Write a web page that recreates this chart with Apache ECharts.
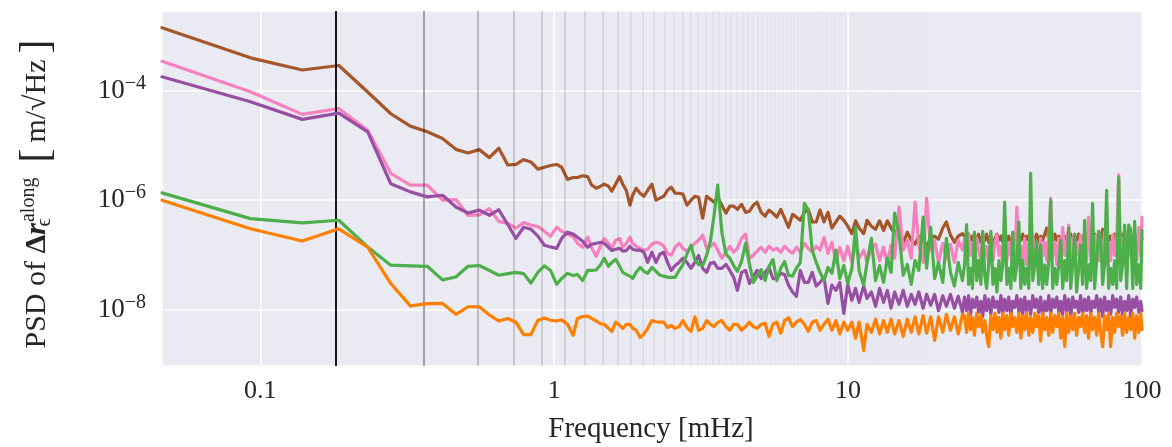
<!DOCTYPE html>
<html><head><meta charset="utf-8">
<script src="https://cdn.jsdelivr.net/npm/echarts@6/dist/echarts.min.js"></script>
<style>html,body{margin:0;padding:0;background:#fff}#c{width:1172px;height:447px}</style>
</head><body><div id="c"></div>
<script>
// Frequency grid [mHz]
const freqMHz = [
 0.0463,0.0926,0.139,0.185,0.232,0.278,0.324,0.370,0.417,0.463,
 0.509,0.556,0.602,0.648,0.695,0.741,0.787,0.833,0.880,0.926,
 0.972,1.02,1.06,1.11,1.16,1.20,1.25,1.30,1.34,1.39,
 1.44,1.48,1.53,1.57,1.62,1.67,1.71,1.76,1.81,1.85,
 1.90,1.96,2.02,2.08,2.15,2.22,2.29,2.36,2.43,2.50,
 2.58,2.66,2.74,2.83,2.92,3.01,3.10,3.20,3.30,3.40,
 3.50,3.60,3.72,3.84,3.96,4.08,4.20,4.34,4.48,4.62,
 4.76,4.90,5.06,5.22,5.38,5.55,5.72,5.90,6.08,6.27,
 6.47,6.67,6.88,7.10,7.32,7.55,7.79,8.03,8.28,8.54,
 8.81,9.09,9.37,9.67,9.97,10.3,10.6,10.9,11.3,11.6,
 12.0,12.4,12.8,13.2,13.6,14.0,14.4,14.9,15.4,15.9,
 16.4,16.9,17.4,18.0,18.5,19.1,19.7,20.3,21.0,21.6,
 22.3,23.0,23.7,24.5,
 24.9,25.3,25.7,26.1,26.5,26.9,27.4,27.8,28.3,28.7,
 29.2,29.6,30.1,30.6,31.1,31.6,32.1,32.6,33.1,33.6,
 34.1,34.7,35.2,35.8,36.3,36.9,37.5,38.1,38.7,39.3,
 39.9,40.5,41.2,41.8,42.5,43.2,43.8,44.5,45.2,45.9,
 46.7,47.4,48.2,48.9,49.7,50.5,51.3,52.1,52.9,53.7,
 54.6,55.4,56.3,57.2,58.1,59.0,59.9,60.9,61.8,62.8,
 63.8,64.8,65.8,66.9,67.9,69.0,70.1,71.2,72.3,73.5,
 74.6,75.8,77.0,78.2,79.5,80.7,82.0,83.3,84.6,85.9,
 87.3,88.7,90.1,91.5,93.0,94.4,95.9,97.5,99.0,100
];

// PSD values [m/sqrt(Hz)]
const psdBrown = [
 1.42e-3,4.0e-4,2.4e-4,2.9e-4,9.5e-5,3.8e-5,2.26e-5,1.78e-5,1.34e-5,8.5e-6,
 7.3e-6,8.4e-6,6.0e-6,8.9e-6,4.4e-6,4.5e-6,5.5e-6,5.0e-6,3.7e-6,4.0e-6,
 4.3e-6,4.5e-6,4.0e-6,2.4e-6,2.6e-6,2.6e-6,2.8e-6,2.7e-6,1.9e-6,1.66e-6,
 1.8e-6,1.97e-6,1.8e-6,1.46e-6,2.0e-6,2.7e-6,1.97e-6,1.5e-6,8.1e-7,1.23e-6,
 1.66e-6,1.34e-6,1.18e-6,1.52e-6,1.96e-6,1.0e-6,1.09e-6,1.18e-6,1.52e-6,1.73e-6,
 1.34e-6,1.34e-6,1.29e-6,8.1e-7,1.0e-6,1.18e-6,1.13e-6,4.7e-7,1.18e-6,1.04e-6,
 9.2e-7,1.13e-6,8.1e-7,5.8e-7,7.8e-7,7.8e-7,6.8e-7,8.4e-7,6.0e-7,6.3e-7,
 8.1e-7,9.2e-7,6.0e-7,5.1e-7,6.6e-7,5.8e-7,4.9e-7,6.8e-7,4.7e-7,3.2e-7,
 5.5e-7,4.9e-7,4.3e-7,6.0e-7,6.8e-7,4.0e-7,4.0e-7,6.6e-7,4.0e-7,6.0e-7,
 3.1e-7,4.0e-7,5.1e-7,4.3e-7,3.35e-7,2.45e-7,4.2e-7,3.1e-7,2.45e-7,4.3e-7,
 3.35e-7,2.95e-7,4.2e-7,2.8e-7,4.2e-7,3.1e-7,2.45e-7,3.2e-7,1.63e-7,2.6e-7,
 1.85e-7,1.57e-7,2.2e-7,1.85e-7,1.44e-7,2.0e-7,2.2e-7,1.93e-7,3.1e-7,4.0e-7,
 2.3e-7,1.7e-7,2.2e-7,2.45e-7,
 2.2e-7,1.7e-7,2.4e-7,1.85e-7,2.2e-7,1.7e-7,2.0e-7,2.4e-7,1.7e-7,2.2e-7,
 1.85e-7,2.4e-7,1.7e-7,2.2e-7,1.5e-7,2.0e-7,2.4e-7,1.85e-7,2.2e-7,1.7e-7,
 2.4e-7,1.85e-7,2.2e-7,1.7e-7,2.0e-7,2.4e-7,1.7e-7,2.2e-7,1.85e-7,2.4e-7,
 1.7e-7,2.2e-7,1.85e-7,2.4e-7,1.7e-7,2.0e-7,2.4e-7,1.7e-7,2.2e-7,1.85e-7,
 2.4e-7,3.1e-7,1.85e-7,2.2e-7,1.7e-7,2.4e-7,1.85e-7,2.2e-7,1.7e-7,2.4e-7,
 1.85e-7,2.2e-7,1.7e-7,2.4e-7,1.5e-7,2.2e-7,1.85e-7,2.4e-7,1.7e-7,2.2e-7,
 1.85e-7,2.4e-7,1.7e-7,2.2e-7,1.85e-7,2.4e-7,1.7e-7,2.2e-7,1.85e-7,2.95e-7,
 2.0e-7,2.4e-7,1.7e-7,2.2e-7,1.85e-7,2.4e-7,1.7e-7,2.2e-7,1.85e-7,2.4e-7,
 1.7e-7,2.2e-7,1.85e-7,2.4e-7,1.7e-7,2.2e-7,1.85e-7,2.4e-7,1.7e-7,2.0e-7
];
const psdPink = [
 3.45e-4,9.6e-5,3.7e-5,4.75e-5,1.9e-5,3.1e-6,1.88e-6,1.88e-6,1.0e-6,1.03e-6,
 5.3e-7,5.4e-7,7.0e-7,4.1e-7,3.75e-7,3.1e-7,3.9e-7,3.5e-7,3.3e-7,2.7e-7,
 2.2e-7,3.2e-7,2.7e-7,2.4e-7,2.15e-7,1.63e-7,1.38e-7,2.1e-7,1.37e-7,9.4e-8,
 1.5e-7,2.0e-7,1.63e-7,1.33e-7,1.85e-7,2.0e-7,1.38e-7,1.63e-7,2.1e-7,1.63e-7,
 1.44e-7,1.32e-7,1.22e-7,1.27e-7,1.57e-7,1.7e-7,1.63e-7,1.44e-7,1.07e-7,9.9e-8,
 1.38e-7,1.63e-7,1.32e-7,1.17e-7,1.38e-7,1.63e-7,1.85e-7,2.3e-7,1.32e-7,1.44e-7,
 1.63e-7,1.22e-7,8.7e-8,1.12e-7,1.44e-7,1.12e-7,1.32e-7,2.0e-7,2.4e-7,8.7e-8,
 9.8e-8,1.17e-7,1.38e-7,1.12e-7,1.44e-7,1.22e-7,1.32e-7,1.12e-7,1.44e-7,1.22e-7,
 1.07e-7,1.38e-7,1.12e-7,1.63e-7,1.32e-7,1.12e-7,1.44e-7,1.22e-7,2.1e-7,1.07e-7,
 1.7e-7,7.3e-8,1.38e-7,7.9e-8,1.44e-7,7.3e-8,1.57e-7,8.7e-8,1.22e-7,7.3e-8,
 1.32e-7,1.57e-7,7.9e-8,1.38e-7,7.3e-8,1.5e-7,8.7e-8,7.5e-7,1.22e-7,1.85e-7,
 8.7e-8,9.2e-7,1.5e-7,7.3e-8,1.09e-6,1.22e-7,1.85e-7,7.3e-8,1.63e-7,8.7e-8,
 1.57e-7,7.3e-8,1.85e-7,1.22e-7,
 2.0e-7,7.9e-8,2.3e-7,9.8e-8,1.7e-7,6.6e-8,2.0e-7,1.22e-7,7.9e-8,2.3e-7,
 9.8e-8,1.44e-7,6.6e-8,2.0e-7,7.9e-8,1.7e-7,2.3e-7,9.8e-8,1.44e-7,6.6e-8,
 2.0e-7,7.9e-8,1.7e-7,9.8e-8,2.3e-7,6.6e-8,7.5e-7,9.8e-8,1.44e-7,7.9e-8,
 2.0e-7,6.6e-8,1.7e-7,9.8e-8,2.3e-7,7.9e-8,1.44e-7,6.6e-8,2.0e-7,9.8e-8,
 1.7e-7,7.9e-8,2.3e-7,1.09e-6,9.8e-8,1.7e-7,6.6e-8,2.0e-7,7.9e-8,3.2e-7,
 9.8e-8,1.44e-7,3.5e-7,6.6e-8,2.0e-7,7.9e-8,1.7e-7,9.8e-8,2.3e-7,6.6e-8,
 2.0e-7,7.9e-8,4.9e-7,9.8e-8,1.7e-7,6.6e-8,2.3e-7,7.9e-8,1.44e-7,9.8e-8,
 2.6e-7,6.6e-8,1.7e-7,7.9e-8,2.3e-7,9.8e-8,1.44e-7,2.9e-6,6.6e-8,2.0e-7,
 7.9e-8,2.6e-7,9.8e-8,1.7e-7,6.6e-8,2.3e-7,7.9e-8,3.2e-7,9.8e-8,4.9e-7
];
const psdPurple = [
 1.8e-4,6.3e-5,3.0e-5,3.9e-5,1.78e-5,2.0e-6,1.42e-6,1.15e-6,1.23e-6,7.5e-7,
 5.85e-7,6.6e-7,5.3e-7,6.7e-7,3.6e-7,2.0e-7,3.2e-7,2.95e-7,2.2e-7,1.5e-7,
 1.4e-7,1.32e-7,2.0e-7,2.6e-7,2.4e-7,2.1e-7,1.78e-7,1.38e-7,1.57e-7,1.63e-7,
 1.7e-7,1.63e-7,1.38e-7,1.2e-7,1.27e-7,1.32e-7,1.17e-7,1.2e-7,1.44e-7,1.27e-7,
 1.22e-7,1.22e-7,1.12e-7,7.3e-8,1.12e-7,7.3e-8,1.03e-7,1.12e-7,7.3e-8,5.2e-8,
 6.4e-8,7.3e-8,8.7e-8,7.3e-8,5.7e-8,7.3e-8,9.8e-8,5.7e-8,4.8e-8,7.0e-8,
 7.3e-8,5.7e-8,5.7e-8,6.7e-8,5.2e-8,3.9e-8,2.25e-8,4.8e-8,5.2e-8,3.0e-8,
 4.1e-8,5.2e-8,3.7e-8,4.8e-8,5.9e-8,3.7e-8,3.7e-8,4.6e-8,4.4e-8,2.8e-8,
 2.1e-8,1.75e-8,5.2e-8,3.15e-8,3.15e-8,4.8e-8,2.7e-8,3.15e-8,3.9e-8,1.3e-8,
 2.8e-8,2.25e-8,3.15e-8,8.5e-9,2.9e-8,1.48e-8,2.45e-8,1.36e-8,2.7e-8,1.6e-8,
 2.1e-8,1.15e-8,2.45e-8,1.36e-8,2.25e-8,1.06e-8,2.1e-8,1.25e-8,2.25e-8,1.15e-8,
 1.9e-8,1.25e-8,2.1e-8,1.06e-8,1.9e-8,1.2e-8,1.9e-8,9.6e-9,1.8e-8,1.15e-8,
 1.9e-8,1.06e-8,1.75e-8,8.9e-9,
 1.7e-8,9.6e-9,1.8e-8,8.2e-9,1.55e-8,1.1e-8,1.7e-8,8.9e-9,1.42e-8,7.5e-9,
 1.8e-8,9.6e-9,1.55e-8,8.2e-9,1.7e-8,1.1e-8,1.42e-8,8.9e-9,1.8e-8,8.2e-9,
 1.55e-8,9.6e-9,1.7e-8,7.5e-9,1.42e-8,1.1e-8,1.8e-8,8.9e-9,1.55e-8,8.2e-9,
 1.7e-8,9.6e-9,1.42e-8,8.2e-9,1.8e-8,1.1e-8,1.55e-8,8.9e-9,1.7e-8,7.5e-9,
 1.42e-8,9.6e-9,1.8e-8,8.2e-9,1.55e-8,1.1e-8,1.7e-8,8.9e-9,1.42e-8,8.2e-9,
 1.8e-8,9.6e-9,1.55e-8,7.5e-9,1.7e-8,1.1e-8,1.42e-8,8.9e-9,1.8e-8,8.2e-9,
 1.55e-8,9.6e-9,1.7e-8,8.2e-9,1.42e-8,1.1e-8,1.8e-8,8.9e-9,1.55e-8,7.5e-9,
 1.7e-8,9.6e-9,1.42e-8,8.2e-9,1.8e-8,1.1e-8,1.55e-8,8.9e-9,1.7e-8,8.2e-9,
 1.42e-8,9.6e-9,1.8e-8,7.5e-9,1.55e-8,1.1e-8,1.7e-8,8.9e-9,1.42e-8,9.6e-9
];
const psdGreen = [
 1.36e-6,4.6e-7,3.85e-7,4.3e-7,1.4e-7,6.5e-8,6.3e-8,6.2e-8,3.5e-8,3.95e-8,
 6.2e-8,6.4e-8,5.2e-8,4.25e-8,4.55e-8,4.8e-8,4.55e-8,3.06e-8,4.8e-8,6.3e-8,
 5.2e-8,2.9e-8,3.7e-8,4.6e-8,4.2e-8,4.4e-8,3.4e-8,5.2e-8,5.2e-8,5.3e-8,
 6.7e-8,8.7e-8,6.2e-8,7.3e-8,8.3e-8,6.2e-8,4.8e-8,4.4e-8,4.1e-8,3.7e-8,
 4.8e-8,5.9e-8,5.0e-8,4.6e-8,5.9e-8,5.0e-8,4.25e-8,4.1e-8,3.9e-8,3.9e-8,
 3.9e-8,5.2e-8,6.6e-8,1.03e-7,1.5e-7,8.2e-8,6.7e-8,6.4e-8,9.8e-8,1.78e-7,
 5.3e-7,1.88e-6,2.6e-7,1.03e-7,8.7e-8,6.4e-8,5.0e-8,7.6e-8,1.63e-7,6.7e-8,
 3.15e-8,4.1e-8,5.4e-8,3.4e-8,6.2e-8,8.2e-8,3.4e-8,5.7e-8,7.6e-8,4.25e-8,
 4.1e-8,5.7e-8,7.3e-8,8.8e-7,6.6e-7,1.22e-7,7.3e-8,4.8e-8,3.4e-8,5.9e-8,
 4.6e-8,1.22e-7,3.7e-8,6.4e-8,3.0e-8,5.7e-8,3.2e-7,5.2e-8,2.8e-8,7.3e-8,
 2.0e-7,3.4e-8,6.4e-8,3.15e-8,8.7e-8,4.8e-8,5.8e-7,2.5e-7,4.25e-8,6.7e-8,
 2.9e-8,7.9e-8,5.2e-8,4.9e-7,5.7e-8,3.2e-7,3.7e-8,7.3e-8,3.15e-8,2.0e-7,
 4.8e-8,2.7e-8,7.3e-8,3.4e-8,
 6.6e-8,3.6e-7,2.9e-8,5.7e-8,2.45e-8,2.6e-7,3.4e-8,7.9e-8,2.9e-8,2.7e-7,
 4.1e-8,2.45e-8,6.6e-8,2.7e-7,2.9e-8,5.7e-8,2.1e-8,7.9e-8,3.4e-8,6.6e-8,
 9.2e-7,2.9e-8,5.7e-8,2.45e-8,2.6e-7,3.4e-8,6.6e-8,4.0e-7,2.45e-8,7.9e-8,
 2.9e-8,5.7e-8,2.45e-8,3.1e-6,3.4e-8,6.6e-8,1.85e-7,2.9e-8,1.5e-7,2.45e-8,
 6.6e-8,2.9e-8,7.9e-8,1.0e-6,2.45e-8,5.7e-8,2.9e-8,6.6e-8,1.85e-7,2.45e-8,
 7.9e-8,3.4e-8,3.1e-7,2.45e-8,6.6e-8,2.4e-7,2.1e-8,5.7e-8,1.5e-7,2.9e-8,
 4.3e-7,2.45e-8,6.6e-8,3.4e-8,8.8e-7,2.45e-8,7.9e-8,2.7e-7,2.2e-7,2.9e-8,
 6.6e-8,1.52e-6,2.45e-8,5.7e-8,2.9e-8,7.9e-8,2.45e-8,2.6e-6,3.4e-8,6.6e-8,
 3.5e-7,2.45e-8,3.5e-7,2.9e-7,2.45e-8,4.1e-7,2.9e-8,6.6e-8,2.45e-8,2.8e-7
];
const psdOrange = [
 1.0e-6,3.0e-7,1.8e-7,3.0e-7,1.38e-7,3.0e-8,1.17e-8,1.29e-8,1.3e-8,8.2e-9,
 1.13e-8,1.13e-8,8.0e-9,6.2e-9,6.9e-9,5.9e-9,3.5e-9,3.5e-9,6.4e-9,7.0e-9,
 6.4e-9,6.2e-9,6.5e-9,5.4e-9,3.4e-9,6.9e-9,7.5e-9,7.6e-9,6.9e-9,6.2e-9,
 5.5e-9,5.4e-9,4.55e-9,4.0e-9,5.9e-9,5.2e-9,4.55e-9,5.4e-9,5.4e-9,4.55e-9,
 4.2e-9,3.1e-9,3.6e-9,4.55e-9,6.3e-9,6.0e-9,5.9e-9,5.9e-9,4.7e-9,5.15e-9,
 4.55e-9,4.9e-9,6.3e-9,4.7e-9,4.0e-9,7.4e-9,4.2e-9,4.55e-9,6.3e-9,5.4e-9,
 4.9e-9,5.9e-9,6.3e-9,4.9e-9,4.2e-9,5.4e-9,5.4e-9,4.2e-9,4.9e-9,5.9e-9,
 4.9e-9,4.55e-9,5.4e-9,5.6e-9,3.25e-9,5.4e-9,5.9e-9,3.7e-9,6.3e-9,7.1e-9,
 4.9e-9,5.9e-9,6.6e-9,5.4e-9,4.0e-9,5.9e-9,6.3e-9,4.2e-9,5.4e-9,6.7e-9,
 4.2e-9,6.3e-9,3.6e-9,5.9e-9,4.2e-9,5.9e-9,3.0e-9,5.9e-9,1.8e-9,5.4e-9,
 3.85e-9,6.7e-9,3.6e-9,6.3e-9,3.85e-9,6.7e-9,3.6e-9,6.3e-9,3.25e-9,6.7e-9,
 3.85e-9,7.4e-9,3.6e-9,7.8e-9,3.7e-9,7.4e-9,2.75e-9,7.4e-9,3.85e-9,8.2e-9,
 4.2e-9,7.4e-9,3.6e-9,8.2e-9,
 7.8e-9,3.85e-9,8.6e-9,4.3e-9,7.2e-9,3.4e-9,8.6e-9,4.9e-9,7.8e-9,3.85e-9,
 6.3e-9,3.4e-9,2.1e-9,7.8e-9,4.3e-9,8.6e-9,3.85e-9,7.2e-9,3.0e-9,8.6e-9,
 4.3e-9,7.8e-9,3.4e-9,8.6e-9,4.9e-9,7.2e-9,3.85e-9,8.6e-9,3.0e-9,7.8e-9,
 4.3e-9,8.6e-9,3.4e-9,7.2e-9,3.85e-9,8.6e-9,4.9e-9,7.8e-9,2.65e-9,8.6e-9,
 4.3e-9,7.2e-9,3.4e-9,8.6e-9,3.85e-9,7.8e-9,4.9e-9,8.6e-9,3.0e-9,7.2e-9,
 2.1e-9,8.6e-9,3.85e-9,7.8e-9,4.3e-9,8.6e-9,3.4e-9,7.2e-9,4.9e-9,8.6e-9,
 3.85e-9,7.8e-9,3.0e-9,8.6e-9,4.3e-9,7.2e-9,3.4e-9,8.6e-9,3.85e-9,2.1e-9,
 7.8e-9,4.3e-9,8.6e-9,2.1e-9,7.2e-9,3.85e-9,8.6e-9,4.9e-9,7.8e-9,3.4e-9,
 8.6e-9,3.85e-9,7.2e-9,4.3e-9,8.6e-9,3.0e-9,7.8e-9,3.85e-9,8.6e-9,4.3e-9
];

// Orbital frequency [mHz] and number of harmonics marked
const orbitFreqMHz = 0.182;
const harmonicCount = 100;
const xTicks = [0.1, 1, 10, 100];
const yTicks = [1e-8, 1e-6, 1e-4];

const FONT = 'Liberation Serif';
const TXT = '#262626';

const seriesDefs = [
  {name: 'brown', color: '#a65628', vals: psdBrown},
  {name: 'pink', color: '#f781bf', vals: psdPink},
  {name: 'purple', color: '#984ea3', vals: psdPurple},
  {name: 'green', color: '#4daf4a', vals: psdGreen},
  {name: 'orange', color: '#ff7f00', vals: psdOrange}
];

const harmonicLines = [];
for (let n = 1; n <= harmonicCount; n++) {
  harmonicLines.push({
    xAxis: n * orbitFreqMHz,
    lineStyle: n === 1 ? {color: '#000', width: 1.8, opacity: 1, type: 'solid'}
                       : {color: '#000', width: 1.6, opacity: 0.8 / n, type: 'solid'}
  });
}

function isPow(v) {
  const l = Math.log10(v);
  return Math.abs(l - Math.round(l)) < 1e-6;
}

const chart = echarts.init(document.getElementById('c'), null, {renderer: 'canvas'});
const option = {
  animation: false,
  backgroundColor: '#ffffff',
  grid: {left: 162, right: 30, top: 11, bottom: 81, show: true, backgroundColor: '#eaeaf2', borderWidth: 0},
  xAxis: {
    type: 'log', logBase: 10, min: 0.0463, max: 100,
    axisLine: {show: false}, axisTick: {show: false},
    splitLine: {show: true, lineStyle: {color: '#ffffff', width: 1.6}},
    axisLabel: {
      margin: 12, fontSize: 26, fontFamily: FONT, color: TXT,
      formatter: v => (isPow(v) && xTicks.some(t => Math.abs(t - v) / t < 1e-6)) ? (v < 1 ? v.toFixed(-Math.round(Math.log10(v))) : String(Math.round(v))) : ''
    }
  },
  yAxis: {
    type: 'log', logBase: 100, min: 9.33e-10, max: 2.87e-3,
    axisLine: {show: false}, axisTick: {show: false},
    splitLine: {show: true, lineStyle: {color: '#ffffff', width: 1.6}},
    axisLabel: {
      margin: 16, fontFamily: FONT, color: TXT,
      formatter: v => {
        if (!yTicks.some(t => Math.abs(t - v) / t < 1e-6)) return '';
        const e = Math.round(Math.log10(v));
        return '{b|10}{s|\u2212' + Math.abs(e) + '}';
      },
      rich: {
        b: {fontSize: 27, fontFamily: FONT, color: TXT, lineHeight: 34, verticalAlign: 'middle'},
        s: {fontSize: 20, fontFamily: FONT, color: TXT, lineHeight: 19, verticalAlign: 'top'}
      }
    }
  },
  graphic: [
    {
      type: 'text', x: 651, y: 429, z: 100,
      style: {text: 'Frequency [mHz]', fontSize: 29, fontFamily: FONT, fill: TXT, align: 'center', verticalAlign: 'middle'}
    },
    {
      type: 'text', x: 37, y: 194, rotation: Math.PI / 2, z: 100,
      style: {
        text: '{n|PSD of }{d|\u0394}{r|r}{sub|\u03f5}{sup|along}{n|  }{br|[}{n|\u2009m/\u221aHz\u2009}{br|]}',
        align: 'center', verticalAlign: 'middle', fill: TXT,
        rich: {
          n: {fontSize: 30, fontFamily: FONT, fill: TXT, lineHeight: 36, verticalAlign: 'middle'},
          d: {fontSize: 30, fontFamily: FONT, fontWeight: 'bold', fill: TXT, lineHeight: 36, verticalAlign: 'middle'},
          r: {fontSize: 30, fontFamily: FONT, fontWeight: 'bold', fontStyle: 'italic', fill: TXT, lineHeight: 36, verticalAlign: 'middle'},
          sub: {fontSize: 20, fontFamily: FONT, fill: TXT, lineHeight: 19, verticalAlign: 'bottom', width: 1},
          sup: {fontSize: 20, fontFamily: FONT, fill: TXT, lineHeight: 19, verticalAlign: 'top'},
          br: {fontSize: 42, fontFamily: FONT, fill: TXT, lineHeight: 36, verticalAlign: 'middle'}
        }
      }
    }
  ],
  series: [
    {
      type: 'line', name: 'orbit harmonics', data: [], z: 1, silent: true,
      markLine: {silent: true, symbol: ['none', 'none'], label: {show: false}, animation: false, data: harmonicLines}
    }
  ].concat(seriesDefs.map((s, i) => ({
    type: 'line', name: s.name, z: 3 + i,
    showSymbol: false, symbol: 'none', smooth: false,
    lineStyle: {color: s.color, width: 3.2, join: 'round', cap: 'round'},
    itemStyle: {color: s.color},
    data: freqMHz.map((f, k) => [f, s.vals[k]])
  })))
};
seriesDefs.forEach(s => { if (s.vals.length !== freqMHz.length) console.error(s.name + ' length ' + s.vals.length + ' vs ' + freqMHz.length); });
chart.setOption(option);
</script>
</body></html>
